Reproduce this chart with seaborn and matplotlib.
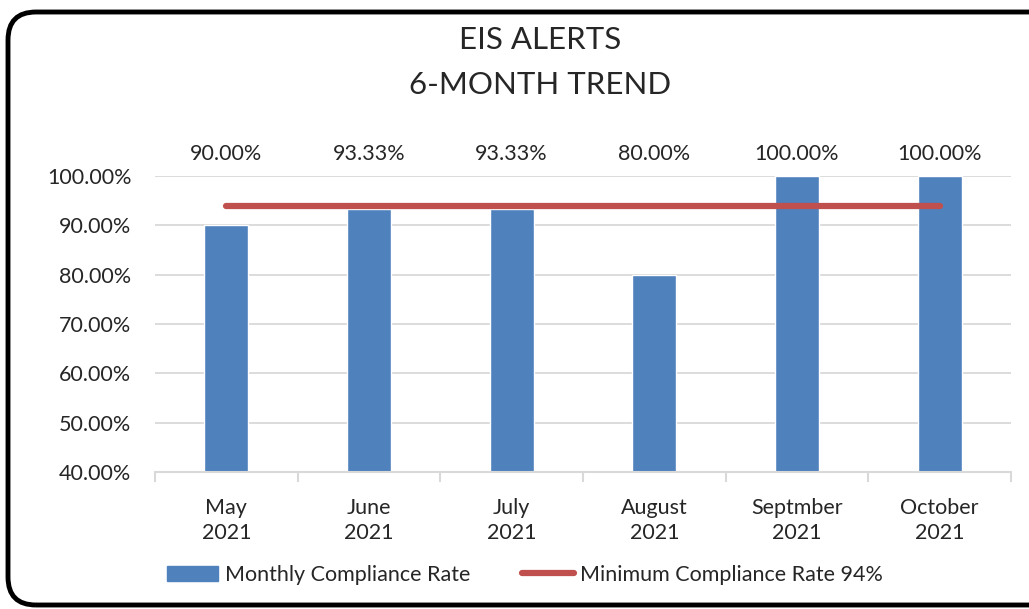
import matplotlib
matplotlib.use("Agg")
import matplotlib.pyplot as plt
import matplotlib.patches as mpatches
import matplotlib.transforms as mtransforms
from matplotlib.lines import Line2D
import numpy as np
import pandas as pd
import seaborn as sns

# Data
months = ["May\n2021", "June\n2021", "July\n2021", "August\n2021", "Septmber\n2021", "October\n2021"]
compliance = [90.00, 93.33, 93.33, 80.00, 100.00, 100.00]
minimum_rate = [94, 94, 94, 94, 94, 94]

BLUE = "#4F81BD"
RED = "#C0504D"
GRID = "#D9D9D9"

sns.set_theme(style="white")
plt.rcParams['font.family'] = ['Lato', 'DejaVu Sans']

df = pd.DataFrame({"month": months, "rate": compliance})

fig = plt.figure(figsize=(10.29, 6.09), dpi=100)
ax = fig.add_axes([0.1506, 0.225, 0.8319, 0.486])

sns.barplot(data=df, x="month", y="rate", color=BLUE, width=0.31, saturation=1, ax=ax, zorder=2)
x = np.arange(len(months))
ax.plot(x, minimum_rate, color=RED, linewidth=4.5, solid_capstyle="round", zorder=3)

ax.set_ylim(40, 100)
ax.set_xlim(-0.5, len(months) - 0.5)
ax.set_yticks(np.arange(40, 101, 10))
ax.set_yticklabels([f"{v:.2f}%" for v in np.arange(40, 101, 10)], fontsize=15.5)
ax.set_xticks(x)
ax.set_xticklabels(months, fontsize=15.5, linespacing=1.3)
ax.set_xticks(np.arange(-0.5, len(months)), minor=True)
ax.tick_params(axis="x", which="major", length=0, pad=19)
ax.tick_params(axis="x", which="minor", length=7, color=GRID, width=1.5, direction="out", bottom=True)
ax.tick_params(axis="y", length=0, pad=17)
ax.set_xlabel("")
ax.set_ylabel("")
ax.grid(axis="y", color=GRID, linewidth=1.3, zorder=0)
ax.set_axisbelow(True)
for side in ["left", "right", "top"]:
    ax.spines[side].set_visible(False)
ax.spines["bottom"].set_color(GRID)
ax.spines["bottom"].set_linewidth(1.5)

# value labels above plot area
trans = mtransforms.blended_transform_factory(ax.transData, ax.transAxes)
for i, v in enumerate(compliance):
    ax.text(i, 1.04, f"{v:.2f}%", transform=trans, ha="center", va="bottom", fontsize=15.5)

# title
fig.text(0.525, 0.935, "EIS ALERTS", ha="center", va="center", fontsize=22.5)
fig.text(0.525, 0.861, "6-MONTH TREND", ha="center", va="center", fontsize=22.5)

# legend
handles = [mpatches.Patch(color=BLUE), Line2D([0], [0], color=RED, linewidth=4.5)]
labels = ["Monthly Compliance Rate", "Minimum Compliance Rate 94%"]
fig.legend(handles, labels, loc="center", bbox_to_anchor=(0.51, 0.056), ncol=2, frameon=False,
           fontsize=15.5, handlelength=2.4, handletextpad=0.3, columnspacing=2.4)

# rounded border
border = mpatches.FancyBboxPatch((8, 4), 1100, 593, boxstyle="round,pad=0,rounding_size=28",
                                 transform=None, facecolor="none", edgecolor="black", linewidth=3.5)
fig.patches.append(border)

fig.savefig("out.png", dpi=100)
